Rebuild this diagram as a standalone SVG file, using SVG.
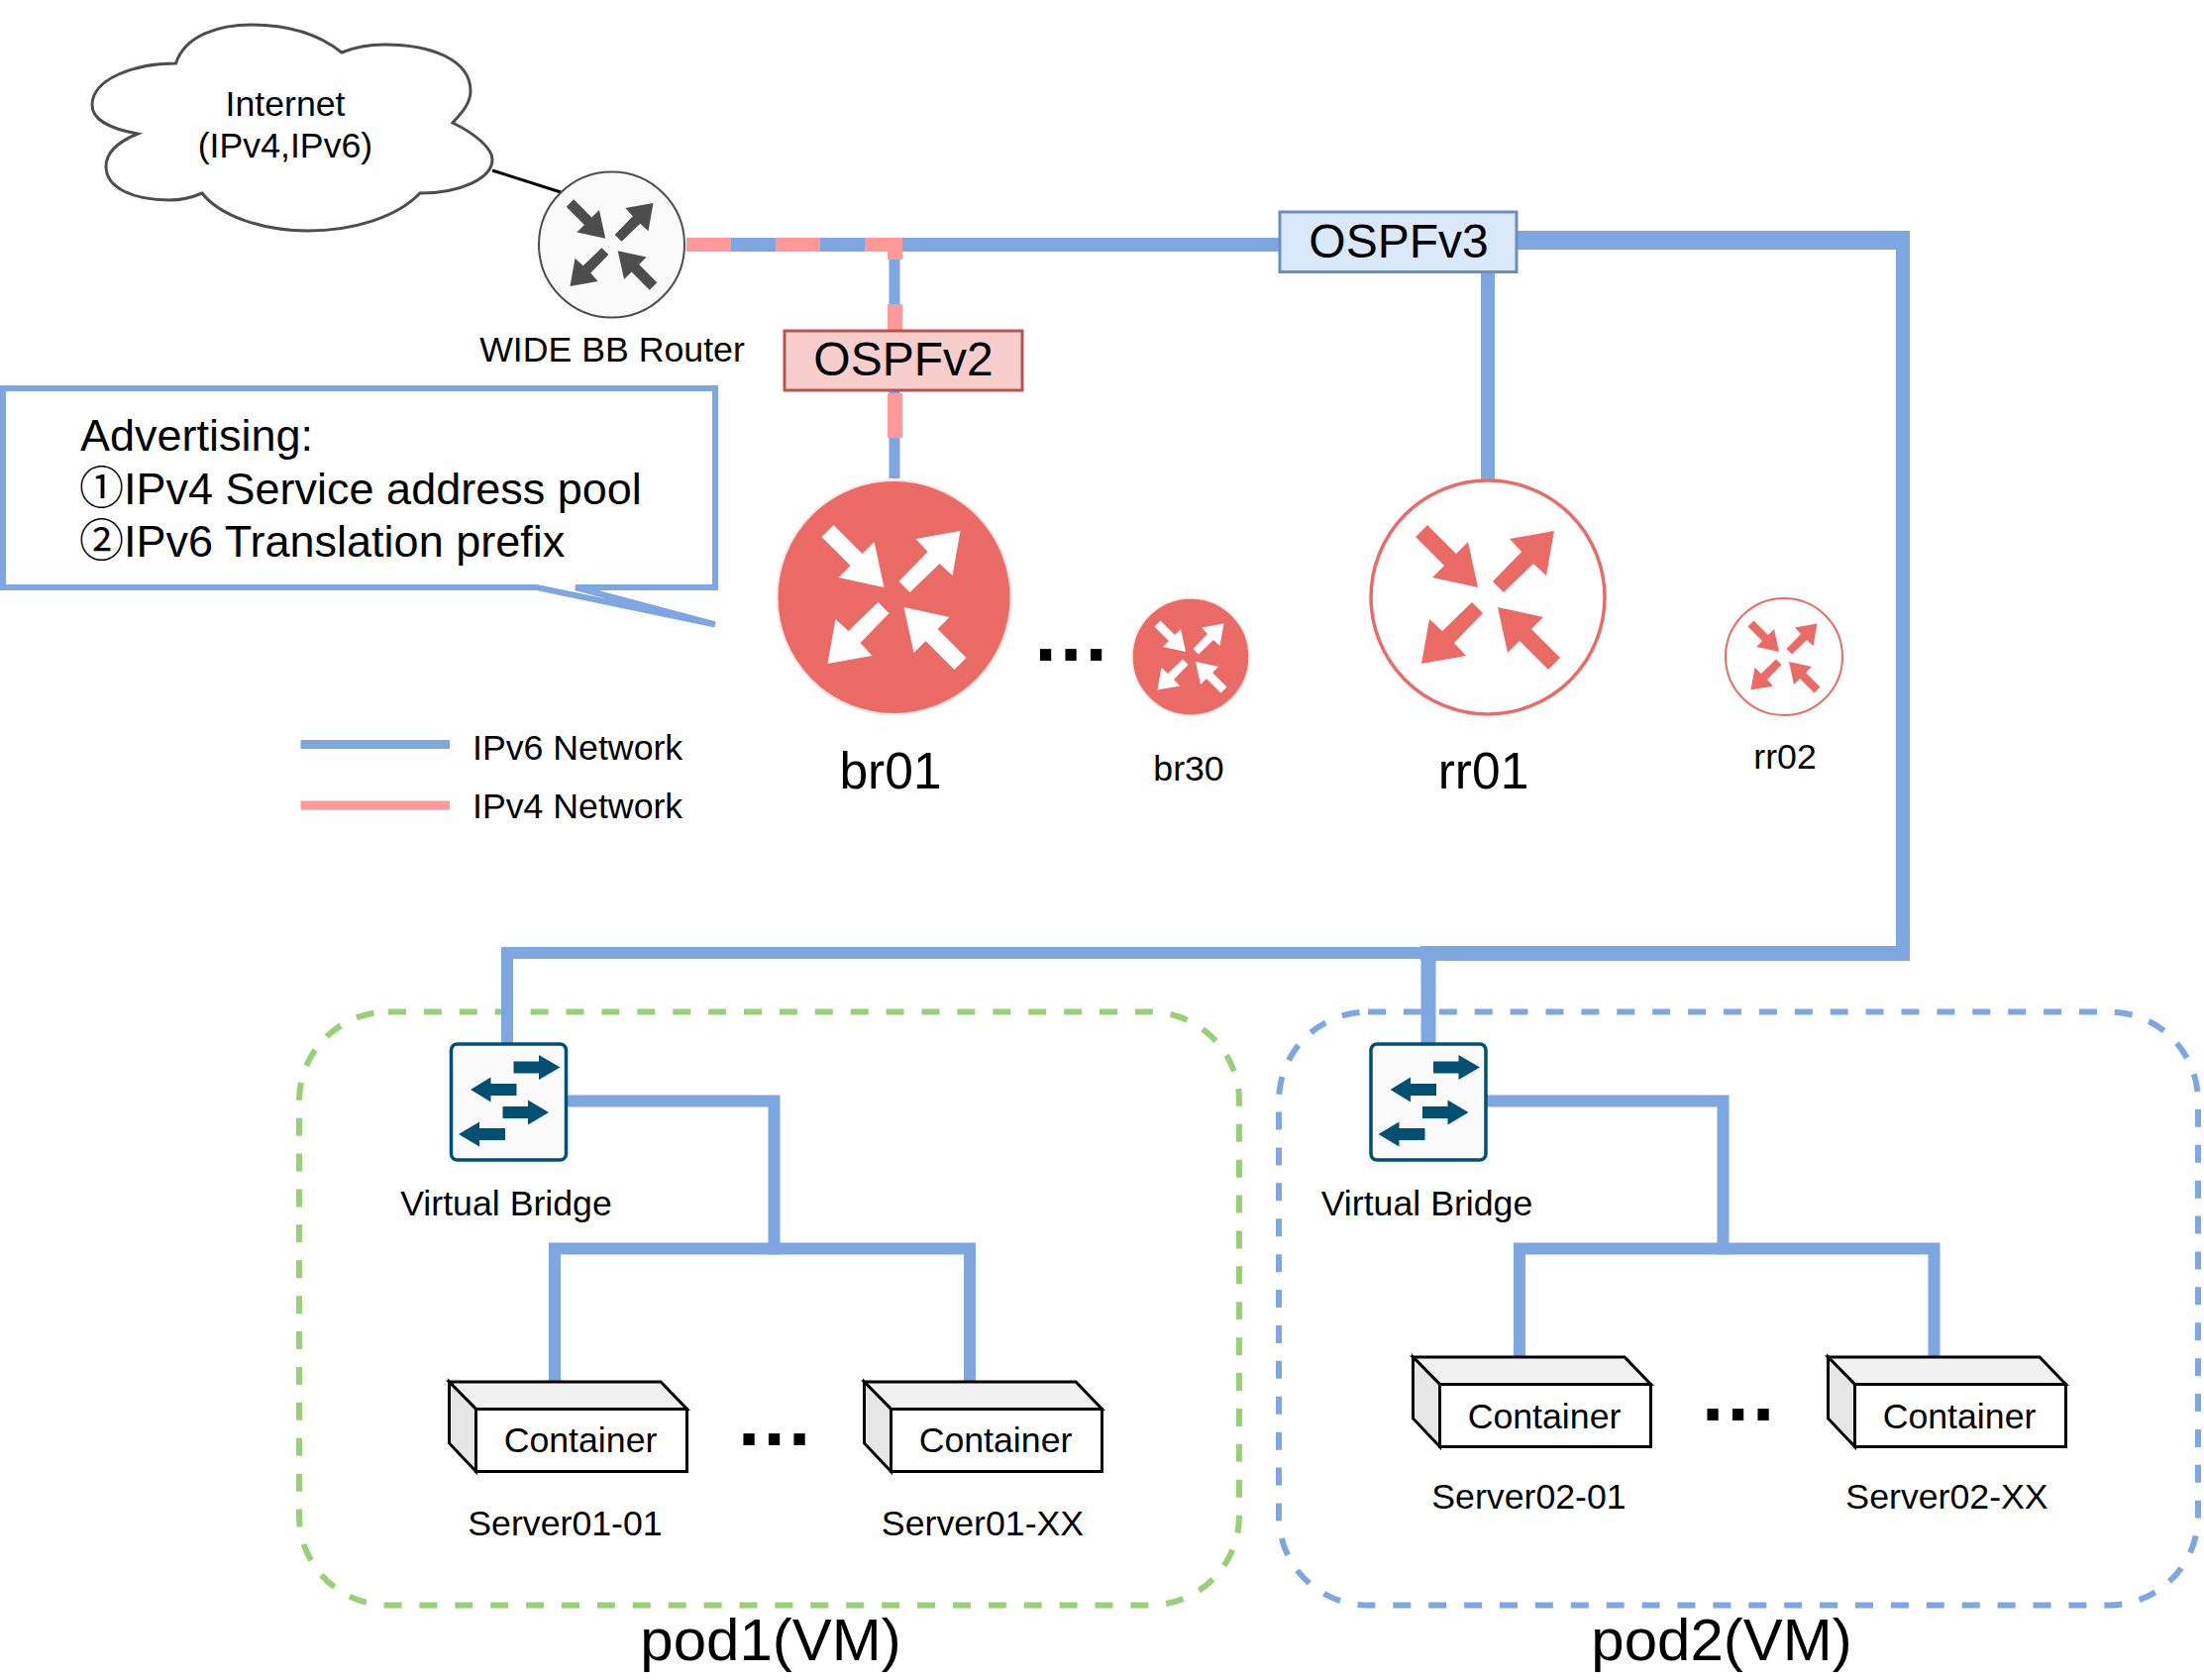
<svg xmlns="http://www.w3.org/2000/svg" xmlns:xlink="http://www.w3.org/1999/xlink" width="2225" height="1696" viewBox="0 0 2225 1696">
<style>
text{font-family:"Liberation Sans","Noto Sans CJK JP",sans-serif;fill:#000}
.s36{font-size:35.7px}.s48{font-size:48px}.s45{font-size:45px}.s52{font-size:51.5px}.s60{font-size:60px}
.m{text-anchor:middle}
.dots{font-size:80px;font-weight:bold;letter-spacing:3.3px}
.b{fill:none;stroke:#7ea6e0;stroke-linejoin:miter;stroke-linecap:butt}
.p{fill:none;stroke:#ff9999}
.pod{fill:none;stroke-width:6;stroke-dasharray:18 17.9}
.bridge{fill:#fafafa;stroke:#005073;stroke-width:3.5}
.cbox{stroke:#000;stroke-width:3;stroke-linejoin:miter}
</style>
<defs>
<g id="arrows">
<path d="M-10,-10L-56,-20L-44,-32L-73,-61L-61,-73L-32,-44L-20,-56Z"/>
<path d="M67,-67L22,-59L34,-46L5,-16L16,-5L46,-34L59,-22Z"/>
<path d="M-67,67L-22,59L-34,46L-5,16L-16,5L-46,34L-59,22Z"/>
<path d="M10,10L56,20L44,32L73,61L61,73L32,44L20,56Z"/>
</g>
<g id="bridgeIcon">
<rect class="bridge" x="-58" y="-58.5" width="116" height="117" rx="6"/>
<g fill="#005073">
<path d="M5,-41L30.5,-41L30.5,-47.5L52,-35L30.5,-22.5L30.5,-29L5,-29Z"/>
<path d="M8,-18.5L-18,-18.5L-18,-25L-38.5,-12.5L-18,0L-18,-6.5L8,-6.5Z"/>
<path d="M-6,4.5L19.5,4.5L19.5,-2L40.5,10.5L19.5,23L19.5,16.5L-6,16.5Z"/>
<path d="M-3.5,26.5L-29.5,26.5L-29.5,20L-50.5,32.5L-29.5,45L-29.5,38.5L-3.5,38.5Z"/>
</g>
</g>
<g id="containerIcon">
<path class="cbox" fill="#f1f1f1" d="M0,0H213.6L240,27.5H27Z"/>
<path class="cbox" fill="#e6e6e6" d="M0,0L27,27.5V90.500L0,62Z"/>
<rect class="cbox" fill="#fff" x="27" y="27.5" width="213" height="63"/>
</g>
</defs>

<g id="pod1"><rect class="pod" stroke="#97d077" x="302" y="1021.5" width="949" height="599" rx="90"/><text class="s60 m" x="778" y="1676">pod1(VM)</text></g>
<g id="pod2"><rect class="pod" stroke="#7ea6e0" x="1291" y="1021.5" width="928" height="599" rx="90"/><text class="s60 m" x="1738" y="1676">pod2(VM)</text></g>

<g id="connectors">
<line x1="497" y1="172" x2="566" y2="194" stroke="#000" stroke-width="3"/>
<path class="b" stroke-width="14" d="M693,247H1291"/>
<path class="b" stroke-width="19" d="M1532,242.500H1928"/>
<path class="b" stroke-width="14" d="M1921,235V970"/>
<path class="b" stroke-width="14" d="M1502,275V485"/>
<path class="b" stroke-width="11" d="M903,254V483"/>
<path class="p" stroke-width="14" d="M693,247H738M783,247H828M873,247H911"/>
<path class="p" stroke-width="15" d="M903.500,254V262M903.500,307V333M903.500,397V442"/>
<path class="b" stroke-width="15" d="M1928,962.500H1434"/>
<path class="b" stroke-width="12" d="M1434,962H512V1053"/>
<path class="b" stroke-width="15" d="M1442,970V1053"/>
<path class="b" stroke-width="12" d="M572,1111.500H781.500V1266.500"/>
<path class="b" stroke-width="12" d="M560,1395V1260.500H979V1395"/>
<path class="b" stroke-width="12" d="M1501,1111.500H1739.500V1266.500"/>
<path class="b" stroke-width="12" d="M1534,1370V1260.500H1952.500V1370"/>
<path class="b" stroke-width="9" d="M303.500,751.500H454"/>
<path class="p" stroke-width="9" d="M303.500,813H454"/>
</g>

<g id="cloud"><path fill="#fff" stroke="#4d4d4d" stroke-width="3" d="M177.500,64C187,35 222,25 254,25C295,25 325,37 345,53C362,46 375,45 388,45C435,45 475,60 475,92C475,105 465,115 457,124C480,135 497,150 497,161C497,180 465,195 424,195C400,220 355,233 311,233C265,233 222,218 204,195C190,201 180,202 171,202C135,202 107,190 107,168C107,152 122,142 139,135C110,130 93,120 93,106C93,80 135,64 177.500,64Z"/>
<text class="s36 m" x="288" y="117">Internet</text><text class="s36 m" x="288" y="159">(IPv4,IPv6)</text></g>

<g id="wide-router"><circle cx="617.500" cy="247" r="73.500" fill="#fafafa" stroke="#4d4d4d" stroke-width="2"/><use xlink:href="#arrows" href="#arrows" transform="translate(617.500,247) scale(.627)" fill="#4d4d4d"/><text class="s36 m" x="618" y="365">WIDE BB Router</text></g>

<g id="ospfv2"><rect x="792" y="334" width="240" height="60" fill="#f8cecc" stroke="#b85450" stroke-width="3"/><text class="s48 m" x="912" y="379">OSPFv2</text></g>
<g id="ospfv3"><rect x="1292" y="214" width="239" height="60.500" fill="#dae8fc" stroke="#6c8ebf" stroke-width="3"/><text class="s48 m" x="1412" y="260">OSPFv3</text></g>

<g id="callout"><path fill="#fff" stroke="#7ea6e0" stroke-width="6" d="M3,392H722V593H581L722,630.500L542,593H3Z"/>
<text class="s45" x="81" y="455">Advertising:</text><text class="s45" x="80" y="509">①IPv4 Service address pool</text><text class="s45" x="80" y="562">②IPv6 Translation prefix</text></g>

<g id="br01"><circle cx="902.500" cy="603" r="118" fill="#ea6b66" stroke="#fbe3e2" stroke-width="2"/><use xlink:href="#arrows" href="#arrows" transform="translate(902.500,603)" fill="#fff"/><text class="s52 m" x="899" y="796">br01</text></g>
<g id="br30"><circle cx="1202" cy="663" r="59" fill="#ea6b66" stroke="#fbe3e2" stroke-width="1.500"/><use xlink:href="#arrows" href="#arrows" transform="translate(1202,663) scale(.5)" fill="#fff"/><text class="s36 m" x="1200" y="788">br30</text></g>
<g id="rr01"><circle cx="1502" cy="603" r="118" fill="#fff" stroke="#ea6b66" stroke-width="3.500"/><use xlink:href="#arrows" href="#arrows" transform="translate(1502,603)" fill="#ea6b66"/><text class="s52 m" x="1497.500" y="796">rr01</text></g>
<g id="rr02"><circle cx="1801" cy="663" r="59" fill="#fff" stroke="#ea6b66" stroke-width="2"/><use xlink:href="#arrows" href="#arrows" transform="translate(1801,663) scale(.5)" fill="#ea6b66"/><text class="s36 m" x="1802" y="776">rr02</text></g>

<text class="dots" x="1044.500" y="666.500">...</text>

<g id="legend"><text class="s36" x="477" y="766.500">IPv6 Network</text><text class="s36" x="477" y="826">IPv4 Network</text></g>

<g id="bridge1"><use xlink:href="#bridgeIcon" href="#bridgeIcon" transform="translate(513.500,1112.500)"/><text class="s36 m" x="511" y="1227">Virtual Bridge</text></g>
<g id="bridge2"><use xlink:href="#bridgeIcon" href="#bridgeIcon" transform="translate(1442,1112.500)"/><text class="s36 m" x="1440.500" y="1227">Virtual Bridge</text></g>

<g id="server01-01"><use xlink:href="#containerIcon" href="#containerIcon" transform="translate(453.500,1395)"/><text class="s36 m" x="586" y="1465.500">Container</text><text class="s36 m" x="570.500" y="1550">Server01-01</text></g>
<g id="server01-xx"><use xlink:href="#containerIcon" href="#containerIcon" transform="translate(872.500,1395)"/><text class="s36 m" x="1005" y="1465.500">Container</text><text class="s36 m" x="992" y="1550">Server01-XX</text></g>
<g id="server02-01"><use xlink:href="#containerIcon" href="#containerIcon" transform="translate(1426.500,1370)"/><text class="s36 m" x="1559" y="1442">Container</text><text class="s36 m" x="1543.500" y="1523">Server02-01</text></g>
<g id="server02-xx"><use xlink:href="#containerIcon" href="#containerIcon" transform="translate(1845.500,1370)"/><text class="s36 m" x="1978" y="1442">Container</text><text class="s36 m" x="1965.500" y="1523">Server02-XX</text></g>

<text class="dots" x="745" y="1459">...</text>
<text class="dots" x="1718" y="1434">...</text>
</svg>
